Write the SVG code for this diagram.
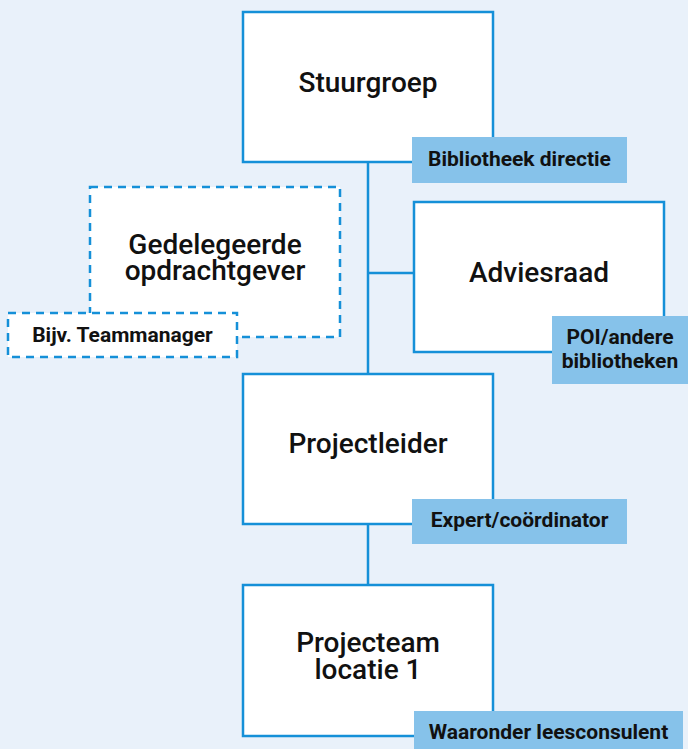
<svg xmlns="http://www.w3.org/2000/svg" width="688" height="749" viewBox="0 0 688 749">
<style>
.box{fill:#fff;stroke:#1590d8;stroke-width:2.5}
.dash{fill:#fff;stroke:#1590d8;stroke-width:2.5;stroke-dasharray:8 6}
.lab{fill:#86c2ea}
.t{font-family:Roboto,"Noto Sans",sans-serif;font-weight:500;font-size:28px;fill:#111;text-anchor:middle}
.s{font-family:Roboto,"Noto Sans",sans-serif;font-weight:700;font-size:21px;fill:#111;text-anchor:middle}
.ln{stroke:#1590d8;stroke-width:2.5;fill:none}
</style>
<rect width="688" height="749" fill="#e9f1fa"/>
<g id="connectors">
<line class="ln" x1="368" y1="162" x2="368" y2="585"/>
<line class="ln" x1="368" y1="273" x2="414" y2="273"/>
</g>
<g id="stuurgroep">
<rect class="box" x="243" y="12" width="250" height="150"/>
<text class="t" x="368" y="92">Stuurgroep</text>
<rect class="lab" x="412" y="137" width="215" height="46"/>
<text class="s" x="519.5" y="166">Bibliotheek directie</text>
</g>
<g id="gedelegeerde">
<rect class="dash" x="90" y="187" width="250" height="150"/>
<text class="t" x="215" y="254">Gedelegeerde</text>
<text class="t" x="215" y="280">opdrachtgever</text>
<rect class="dash" x="8" y="313" width="229" height="44"/>
<text class="s" x="122.5" y="342">Bijv. Teammanager</text>
</g>
<g id="adviesraad">
<rect class="box" x="414" y="202" width="250" height="150"/>
<text class="t" x="539" y="282">Adviesraad</text>
<rect class="lab" x="552" y="316" width="136" height="68"/>
<text class="s" x="620" y="344">POI/andere</text>
<text class="s" x="620" y="368">bibliotheken</text>
</g>
<g id="projectleider">
<rect class="box" x="243" y="374" width="250" height="150"/>
<text class="t" x="368" y="453">Projectleider</text>
<rect class="lab" x="412" y="499" width="215" height="45"/>
<text class="s" x="519.5" y="527">Expert/coördinator</text>
</g>
<g id="projecteam">
<rect class="box" x="243" y="585" width="250" height="151"/>
<text class="t" x="368" y="652">Projecteam</text>
<text class="t" x="368" y="679">locatie 1</text>
<rect class="lab" x="414" y="711" width="269" height="40"/>
<text class="s" x="548.5" y="739">Waaronder leesconsulent</text>
</g>
</svg>
